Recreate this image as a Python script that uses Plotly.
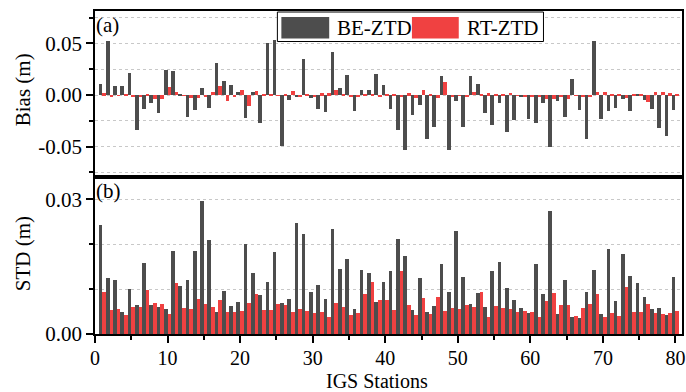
import plotly.graph_objects as go

stations = list(range(1, 81))

be_bias = [0.0103, 0.0523, 0.0087, 0.0087, 0.0216, -0.034, -0.014, -0.008, -0.0178, 0.024,
           0.0236, 0.001, -0.021, -0.0145, 0.007, -0.013, 0.0313, 0.0136, 0.010, 0.003,
           -0.0226, 0.0026, -0.0268, 0.050, 0.053, -0.0497, -0.005, -0.002, 0.0345, -0.003,
           -0.014, -0.0168, 0.0418, 0.0072, 0.019, -0.0155, 0.0053, 0.0053, 0.0207, 0.0095,
           -0.014, -0.0339, -0.053, -0.0197, -0.0099, -0.043, -0.0306, 0.0184, -0.0536, -0.0053,
           -0.0313, 0.0184, 0.0103, -0.0171, -0.029, -0.008, -0.036, -0.024, -0.0016, -0.023,
           -0.027, -0.0074, -0.0507, -0.006, -0.021, 0.0155, -0.0145, -0.043, 0.0527, -0.0236,
           -0.015, -0.0126, -0.004, -0.0158, 0.0003, -0.005, -0.0136, -0.032, -0.0397, -0.0145]

rt_bias = [0.0016, -0.002, -0.0006, 0.0003, -0.002, -0.001, 0.001, -0.004, -0.004, 0.0074,
           0.0032, -0.0005, -0.003, -0.003, -0.002, 0.0026, 0.009, -0.0055, -0.002, 0.005,
           -0.0107, 0.0039, 0.0006, 0.0013, -0.0006, 0.0003, 0.0036, -0.0015, 0.0006, -0.0016,
           0.0016, 0.0016, 0.0046, 0.0006, -0.0023, -0.001, 0.0013, 0.0006, -0.0013, 0.0003,
           0.0003, -0.0016, 0.0016, -0.003, 0.0046, 0.0006, -0.0033, 0.0125, -0.001, -0.0006,
           -0.001, 0.0029, 0.0003, 0.0016, 0.001, 0.0003, 0.0023, -0.0006, -0.001, -0.001,
           -0.002, -0.004, -0.004, -0.001, -0.004, -0.0006, -0.001, -0.002, 0.0032, 0.0026,
           0.001, 0.0006, -0.0026, 0.0006, 0.0003, -0.0065, 0.0026, 0.0032, 0.0016, 0.0013]

be_std = [0.0243, 0.0125, 0.0121, 0.0049, 0.0101, 0.0064, 0.0158, 0.0065, 0.0061, 0.0055,
          0.0186, 0.0108, 0.0121, 0.0184, 0.0296, 0.021, 0.005, 0.0096, 0.0063, 0.0072,
          0.0201, 0.0137, 0.0086, 0.0117, 0.0182, 0.0069, 0.0079, 0.0248, 0.0224, 0.0093,
          0.0109, 0.0077, 0.0234, 0.0144, 0.0167, 0.0055, 0.0143, 0.0136, 0.0072, 0.0115,
          0.014, 0.0212, 0.0173, 0.0053, 0.0124, 0.0049, 0.0063, 0.0157, 0.0094, 0.023,
          0.0126, 0.0066, 0.0092, 0.0061, 0.0141, 0.016, 0.0102, 0.0075, 0.0057, 0.0047,
          0.0156, 0.0089, 0.0274, 0.0044, 0.0121, 0.0039, 0.0036, 0.0093, 0.0143, 0.0045,
          0.0189, 0.0073, 0.0178, 0.013, 0.0113, 0.0082, 0.0055, 0.0057, 0.0042, 0.0126]

rt_std = [0.0093, 0.0053, 0.0056, 0.0043, 0.0061, 0.0061, 0.0099, 0.007, 0.0066, 0.0044,
          0.0113, 0.0057, 0.0056, 0.0079, 0.0068, 0.0061, 0.0076, 0.0048, 0.0048, 0.0051,
          0.0069, 0.009, 0.0053, 0.0054, 0.0066, 0.0064, 0.0049, 0.0056, 0.0052, 0.0047,
          0.0049, 0.0039, 0.007, 0.0061, 0.0042, 0.0047, 0.009, 0.0115, 0.0076, 0.0076,
          0.0053, 0.014, 0.0064, 0.0043, 0.0081, 0.0045, 0.0082, 0.0051, 0.0057, 0.0056,
          0.0064, 0.0061, 0.0094, 0.0039, 0.0063, 0.0059, 0.0055, 0.0048, 0.0052, 0.0048,
          0.0038, 0.0073, 0.0092, 0.0065, 0.0065, 0.0041, 0.0059, 0.0068, 0.0089, 0.0039,
          0.0047, 0.0041, 0.0104, 0.005, 0.005, 0.0067, 0.0047, 0.0045, 0.0047, 0.0052]

series_names = ["BE-ZTD", "RT-ZTD"]
x_ticks = [0, 10, 20, 30, 40, 50, 60, 70, 80]
x_minor = [5, 15, 25, 35, 45, 55, 65, 75]
bias_ticks = [-0.05, 0.0, 0.05]
bias_ticktext = ["-0.05", "0.00", "0.05"]
bias_minor = [-0.075, -0.025, 0.025, 0.075]
std_ticks = [0.0, 0.03]
std_ticktext = ["0.00", "0.03"]
std_minor = [0.01, 0.02]

GRAY = "#4d4d4d"
RED = "#f04141"
FONT = "Liberation Serif"
FS = 21
GRID = "#c8c8c8"

fig = go.Figure()
fig.add_trace(go.Bar(x=stations, y=be_bias, xaxis="x2", yaxis="y2", name=series_names[0],
                     marker=dict(color=GRAY, line=dict(width=0)), showlegend=False))
fig.add_trace(go.Bar(x=stations, y=rt_bias, xaxis="x2", yaxis="y2", name=series_names[1],
                     marker=dict(color=RED, line=dict(width=0)), showlegend=False))
fig.add_trace(go.Bar(x=stations, y=be_std, xaxis="x", yaxis="y", name=series_names[0],
                     marker=dict(color=GRAY, line=dict(width=0)), showlegend=False))
fig.add_trace(go.Bar(x=stations, y=rt_std, xaxis="x", yaxis="y", name=series_names[1],
                     marker=dict(color=RED, line=dict(width=0)), showlegend=False))

axis_common = dict(showline=True, linecolor="black", linewidth=1.5, mirror=True,
                   zeroline=False)

split = 157 / 323

fig.update_layout(
    width=686, height=392,
    margin=dict(l=95, r=2, t=11, b=58),
    paper_bgcolor="white", plot_bgcolor="white",
    font=dict(family=FONT, size=FS, color="black"),
    barmode="group", bargap=0, bargroupgap=0,
    xaxis=dict(domain=[0, 1], anchor="y", range=[0, 80.9],
               tickvals=x_ticks, ticks="outside", ticklen=7, tickwidth=1.5,
               tickcolor="black", showgrid=False, ticklabelstandoff=-2,
               minor=dict(tickvals=x_minor, ticks="outside", ticklen=4, tickwidth=1.5,
                          tickcolor="black", showgrid=False),
               tickfont=dict(size=20), **axis_common),
    xaxis2=dict(domain=[0, 1], anchor="y2", matches="x", showticklabels=False,
                ticks="", showgrid=False, **axis_common),
    yaxis=dict(domain=[0, split], anchor="x", range=[0, 0.035],
               tickvals=std_ticks, ticktext=std_ticktext, ticks="outside", ticklen=7,
               tickwidth=1.5, tickcolor="black",
               showgrid=True, gridcolor=GRID, griddash="dot", gridwidth=1,
               minor=dict(tickvals=std_minor, ticks="outside", ticklen=4, tickwidth=1.5,
                          tickcolor="black", showgrid=True, gridcolor=GRID,
                          griddash="dot", gridwidth=1),
               tickfont=dict(size=FS), **axis_common),
    yaxis2=dict(domain=[split, 1], anchor="x2", range=[-0.0795, 0.0815],
                tickvals=bias_ticks, ticktext=bias_ticktext, ticks="outside", ticklen=7,
                tickwidth=1.5, tickcolor="black",
                showgrid=True, gridcolor=GRID, griddash="dot", gridwidth=1,
                minor=dict(tickvals=bias_minor, ticks="outside", ticklen=4, tickwidth=1.5,
                           tickcolor="black", showgrid=True, gridcolor=GRID,
                           griddash="dot", gridwidth=1),
                tickfont=dict(size=FS), **axis_common),
)

def px_x(px):
    return (px - 95) / 589.0

def px_y(py):
    return (334 - py) / 323.0

shapes = [
    dict(type="rect", xref="paper", yref="paper", x0=px_x(278), x1=px_x(545),
         y0=px_y(41.5), y1=px_y(12), fillcolor="white", line=dict(color="black", width=1),
         layer="above"),
    dict(type="rect", xref="paper", yref="paper", x0=px_x(282), x1=px_x(330),
         y0=px_y(38.5), y1=px_y(17), fillcolor=GRAY, line=dict(width=0), layer="above"),
    dict(type="rect", xref="paper", yref="paper", x0=px_x(413), x1=px_x(460),
         y0=px_y(38.5), y1=px_y(17), fillcolor=RED, line=dict(width=0), layer="above"),
]
fig.update_layout(shapes=shapes)

annotations = [
    dict(text=series_names[0], x=px_x(336), y=px_y(28), xref="paper", yref="paper",
         xanchor="left", yanchor="middle", showarrow=False, font=dict(size=FS)),
    dict(text=series_names[1], x=px_x(466), y=px_y(28), xref="paper", yref="paper",
         xanchor="left", yanchor="middle", showarrow=False, font=dict(size=FS)),
    dict(text="(a)", x=px_x(94), y=px_y(25), xref="paper", yref="paper",
         xanchor="left", yanchor="middle", showarrow=False, font=dict(size=FS)),
    dict(text="(b)", x=px_x(94), y=px_y(191), xref="paper", yref="paper",
         xanchor="left", yanchor="middle", showarrow=False, font=dict(size=FS)),
    dict(text="IGS Stations", x=px_x(378), y=px_y(381), xref="paper", yref="paper",
         xanchor="center", yanchor="middle", showarrow=False, font=dict(size=20),
         borderpad=0),
    dict(text="Bias (m)", x=px_x(23), y=px_y(90), xref="paper", yref="paper",
         xanchor="center", yanchor="middle", textangle=-90, showarrow=False,
         font=dict(size=FS)),
    dict(text="STD (m)", x=px_x(23), y=px_y(254), xref="paper", yref="paper",
         xanchor="center", yanchor="middle", textangle=-90, showarrow=False,
         font=dict(size=FS)),
]
fig.update_layout(annotations=annotations)

fig.write_html("out.html")
